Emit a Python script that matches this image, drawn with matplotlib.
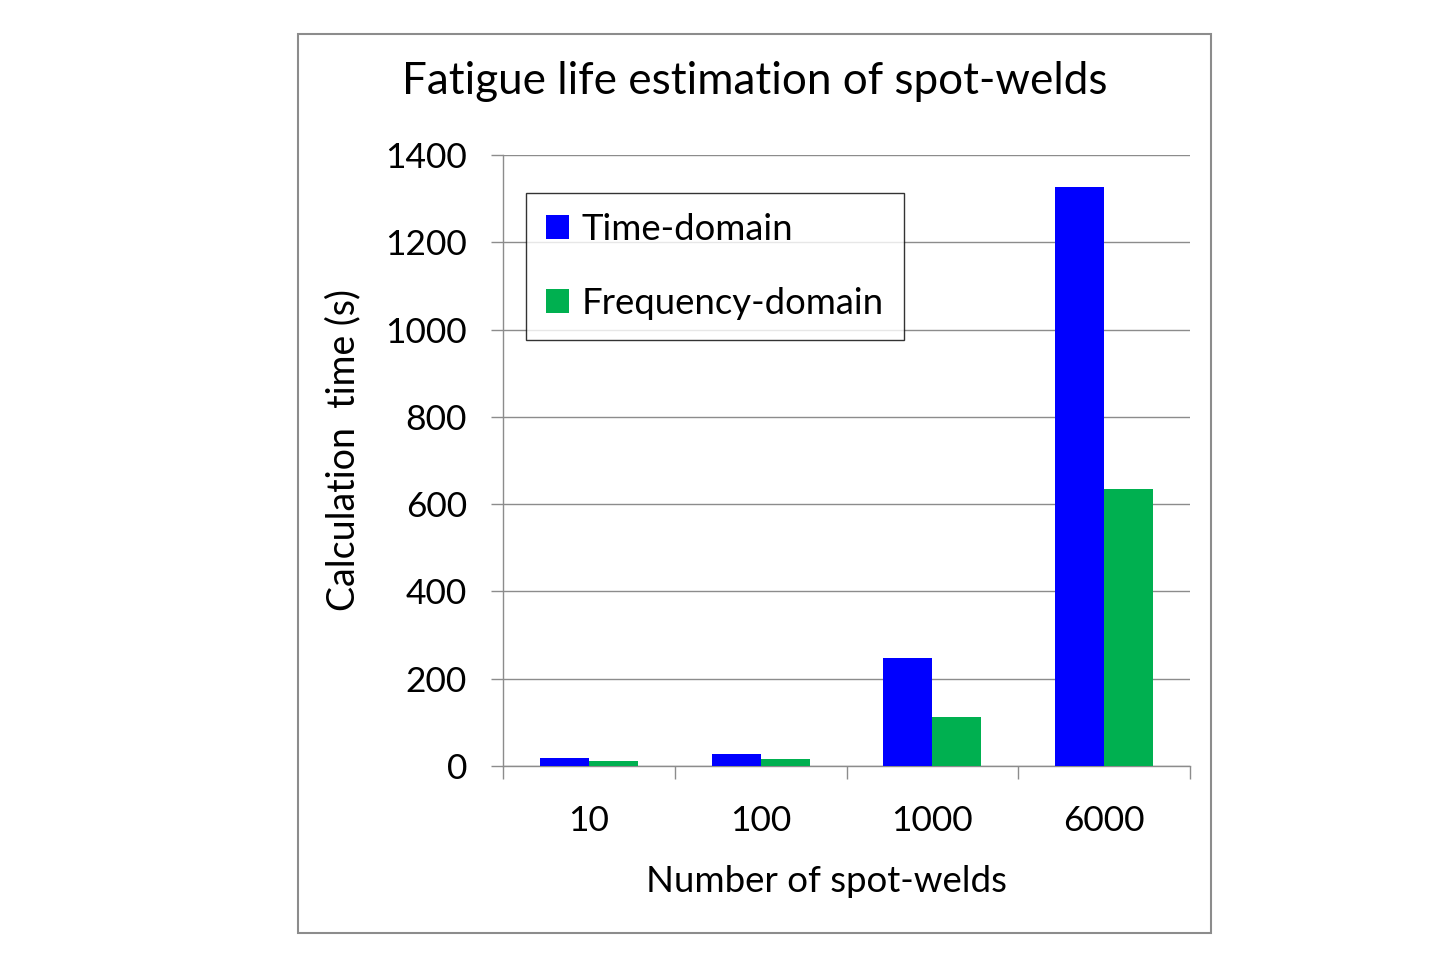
import matplotlib
matplotlib.use("Agg")
import matplotlib.pyplot as plt
from matplotlib.patches import Rectangle
import numpy as np

categories = ["10", "100", "1000", "6000"]
time_domain = [19, 28, 247, 1326]
freq_domain = [11.5, 17, 112, 635]
series_names = ["Time-domain", "Frequency-domain"]
y_ticks = [0, 200, 400, 600, 800, 1000, 1200, 1400]

plt.rcParams['font.family'] = ['Lato', 'DejaVu Sans']

fig = plt.figure(figsize=(14.4, 9.6), dpi=100)
fig.patch.set_facecolor("white")

# outer frame
fig.patches.append(Rectangle((298/1440, 1-933/960), (1211-298)/1440, (933-34)/960,
                             transform=fig.transFigure, fill=False,
                             edgecolor="#8c8c8c", linewidth=1.5))

ax = fig.add_axes([503/1440, 1-766/960, (1190-503)/1440, (766-155)/960])
x = np.arange(len(categories))
w = 0.285
ax.bar(x - w/2, time_domain, width=w, color="#0000FF", label=series_names[0], zorder=3)
ax.bar(x + w/2, freq_domain, width=w, color="#00B050", label=series_names[1], zorder=3)

ax.set_xlim(-0.5, len(categories) - 0.5)
ax.set_ylim(0, 1400)
ax.set_yticks(y_ticks)
ax.set_yticklabels([str(v) for v in y_ticks], fontsize=25.5)
ax.set_xticks(x)
ax.set_xticklabels(categories, fontsize=25.5)
ax.set_xticks(np.arange(-0.5, len(categories), 1.0), minor=True)
ax.tick_params(axis='x', which='major', length=0, pad=28)
ax.tick_params(axis='x', which='minor', length=9, width=1, color="#8c8c8c")
ax.tick_params(axis='y', length=9, width=1, color="#8c8c8c", pad=17)

ax.yaxis.grid(True, color="#8c8c8c", linewidth=1, zorder=0)
ax.set_axisbelow(True)
for s in ["top", "right"]:
    ax.spines[s].set_visible(False)
for s in ["left", "bottom"]:
    ax.spines[s].set_color("#8c8c8c")
    ax.spines[s].set_linewidth(1)

fig.text(755/1440, 1-82/960, "Fatigue life estimation of spot-welds", fontsize=31.7,
         ha="center", va="center")
fig.text(343/1440, 1-450/960, "Calculation  time (s)", fontsize=27, rotation=90,
         ha="center", va="center")
fig.text(826/1440, 1-882/960, "Number of spot-welds", fontsize=26.4,
         ha="center", va="center")

leg = ax.legend(loc="upper left", bbox_to_anchor=((526-503)/687, (766-193)/611),
                fontsize=26.3, frameon=True, fancybox=False, edgecolor="black",
                handlelength=0.63, handleheight=0.63, handletextpad=0.35,
                labelspacing=1.12, borderpad=0.55, borderaxespad=0)
leg.get_frame().set_linewidth(1)

fig.savefig("out.png", dpi=100, facecolor="white")
